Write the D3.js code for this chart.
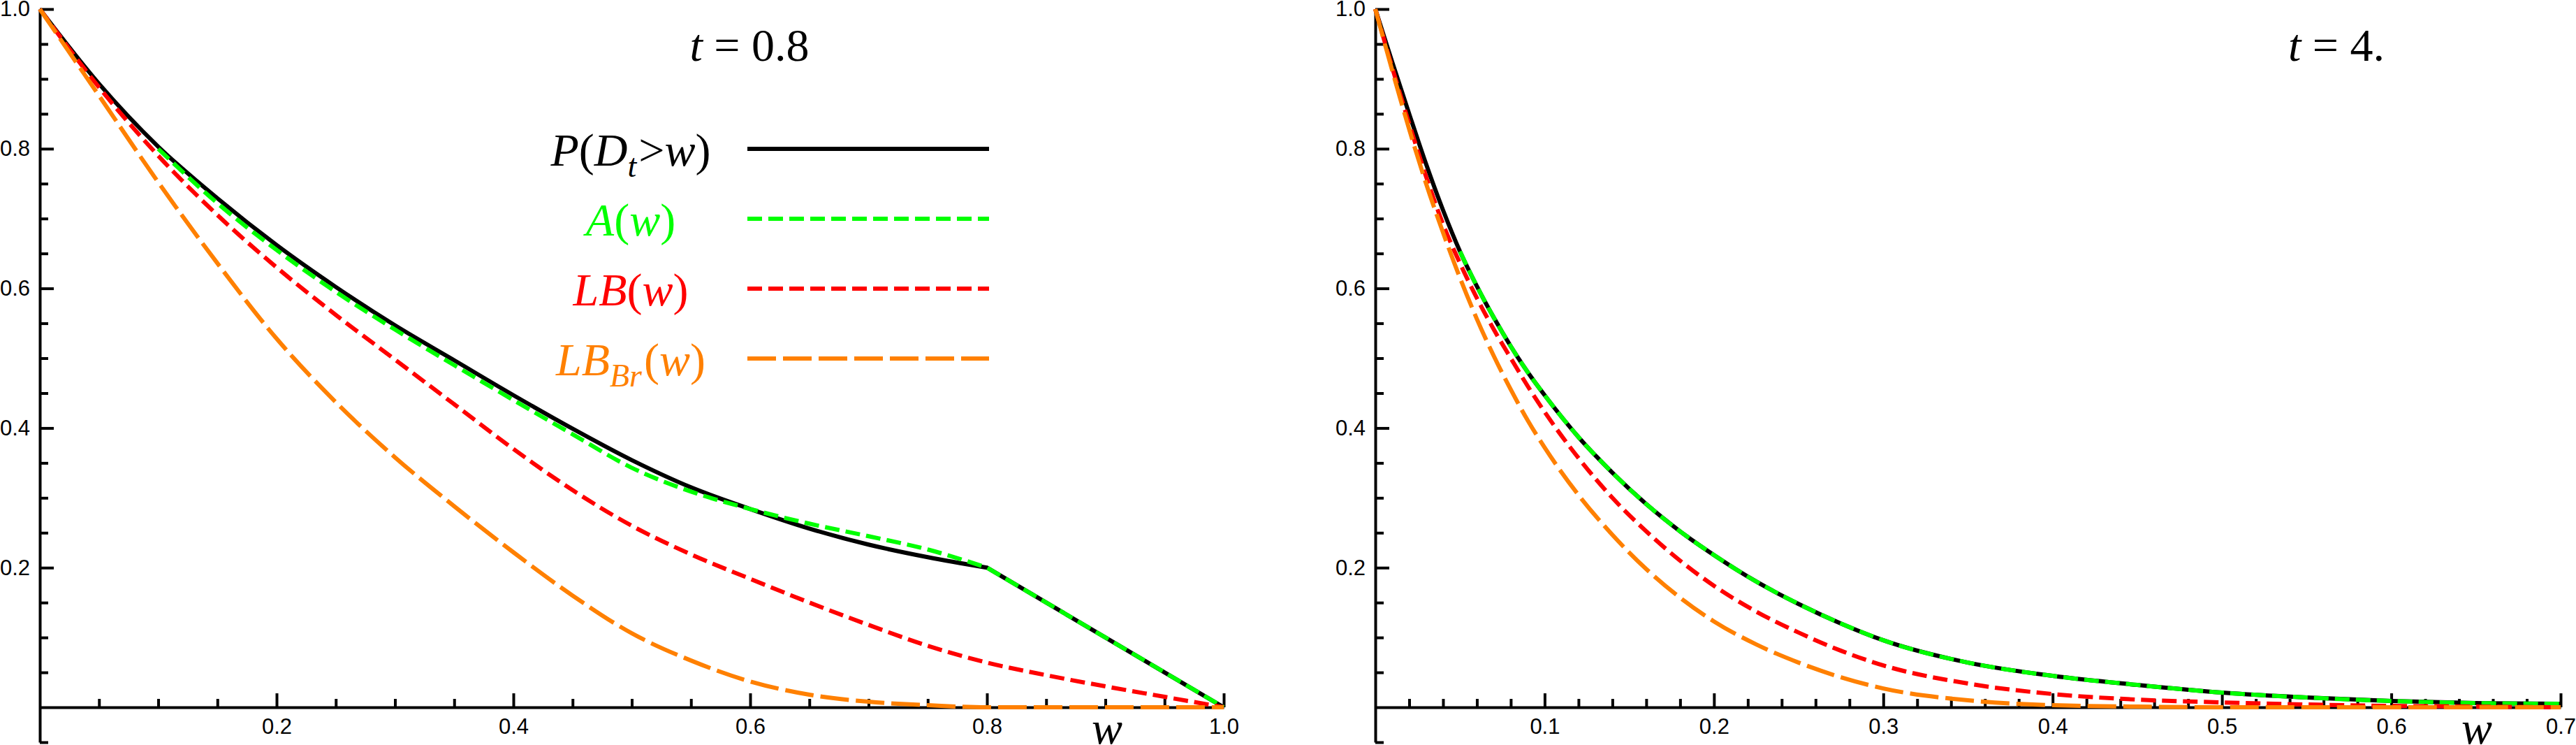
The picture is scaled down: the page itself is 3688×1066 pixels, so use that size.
<!DOCTYPE html>
<html>
<head>
<meta charset="utf-8">
<script src="https://d3js.org/d3.v7.min.js"></script>
<style>
body { margin: 0; background: #fff; }
svg { display: block; }
</style>
</head>
<body>
<div id="mainArea"></div>
<script>
// ---- data ----
// left panel, t = 0.8
var wLeft = [0, 0.05, 0.1, 0.15, 0.2, 0.25, 0.3, 0.35, 0.4, 0.45, 0.5, 0.55, 0.6, 0.65, 0.7, 0.75, 0.8, 0.85, 0.9, 0.95, 1.0];
var probLeft = [1.000, 0.893, 0.803, 0.729, 0.662, 0.602, 0.547, 0.497, 0.447, 0.399, 0.354, 0.315, 0.284, 0.256, 0.233, 0.215, 0.200, 0.150, 0.100, 0.050, 0.000];
var approxLeft = [null, null, 0.800, 0.722, 0.655, 0.595, 0.541, 0.490, 0.440, 0.391, 0.343, 0.309, 0.284, 0.263, 0.245, 0.226, 0.200, 0.150, 0.100, 0.050, 0.000];
var lbLeft = [1.000, 0.888, 0.790, 0.705, 0.630, 0.562, 0.498, 0.434, 0.370, 0.311, 0.260, 0.219, 0.184, 0.150, 0.118, 0.088, 0.064, 0.046, 0.030, 0.015, 0.000];
var lbBrLeft = [1.000, 0.876, 0.752, 0.636, 0.528, 0.437, 0.358, 0.288, 0.222, 0.160, 0.106, 0.067, 0.037, 0.018, 0.008, 0.003, 0.000, 0.000, 0.000, 0.000, 0.000];

// right panel, t = 4.
var wRight = [0, 0.01, 0.02, 0.03, 0.04, 0.05, 0.06, 0.07, 0.08, 0.09, 0.1, 0.12, 0.14, 0.16, 0.18, 0.2, 0.225, 0.25, 0.275, 0.3, 0.35, 0.4, 0.45, 0.5, 0.55, 0.6, 0.65, 0.7];
var probRight = [1.000, 0.924, 0.850, 0.778, 0.712, 0.653, 0.603, 0.558, 0.517, 0.480, 0.447, 0.387, 0.336, 0.291, 0.252, 0.218, 0.180, 0.148, 0.120, 0.096, 0.064, 0.045, 0.032, 0.021, 0.014, 0.009, 0.006, 0.005];
var approxRight = [null, null, null, null, null, 0.653, 0.603, 0.558, 0.517, 0.480, 0.447, 0.387, 0.336, 0.291, 0.252, 0.218, 0.180, 0.148, 0.120, 0.096, 0.064, 0.045, 0.032, 0.021, 0.014, 0.009, 0.006, 0.005];
var lbRight = [1.000, 0.916, 0.836, 0.760, 0.692, 0.636, 0.586, 0.541, 0.500, 0.460, 0.423, 0.357, 0.300, 0.252, 0.210, 0.174, 0.137, 0.107, 0.081, 0.060, 0.034, 0.019, 0.011, 0.007, 0.004, 0.002, 0.001, 0.000];
var lbBrRight = [1.000, 0.912, 0.828, 0.750, 0.680, 0.615, 0.556, 0.503, 0.455, 0.411, 0.372, 0.304, 0.247, 0.198, 0.157, 0.123, 0.090, 0.064, 0.043, 0.027, 0.010, 0.003, 0.001, 0.000, 0.000, 0.000, 0.000, 0.000];

// ticks
var xTicksLeft = [0.2, 0.4, 0.6, 0.8, 1.0];
var xTicksRight = [0.1, 0.2, 0.3, 0.4, 0.5, 0.6, 0.7];
var yTicks = [0.2, 0.4, 0.6, 0.8, 1.0];

var seriesColors = ["#000000", "#00ff00", "#ff0000", "#ff8000"];
var seriesDash = [null, "21,9", "21,9", "41,10"];

function mainInit() {
  var width = 3688, height = 1066;
  var vis = d3.select("#mainArea").append("svg")
    .attr("width", width)
    .attr("height", height);

  var yScale = d3.scaleLinear().domain([-0.05, 1]).range([1062, 13]);

  var panels = [
    { x: d3.scaleLinear().domain([0, 1]).range([57, 1752]),
      w: wLeft, series: [probLeft, approxLeft, lbLeft, lbBrLeft], kink: 0.8,
      xTicks: xTicksLeft, minorStep: 0.05, xMax: 1.0,
      title: "0.8", titleX: 1073, labelX: 1585 },
    { x: d3.scaleLinear().domain([0, 0.7]).range([1969, 3666]),
      w: wRight, series: [probRight, approxRight, lbRight, lbBrRight], kink: null,
      xTicks: xTicksRight, minorStep: 0.02, xMax: 0.7,
      title: "4.", titleX: 3345, labelX: 3546 }
  ];

  panels.forEach(function(p) {
    var g = vis.append("g");
    var x = p.x;

    // minor tick positions
    var xMinor = d3.range(1, Math.round(p.xMax / p.minorStep) + 1)
      .map(function(i) { return +(i * p.minorStep).toFixed(3); })
      .filter(function(v) { return p.xTicks.indexOf(v) < 0; });
    var yMinor = d3.range(-1, 20).map(function(i) { return +(i * 0.05).toFixed(3); })
      .filter(function(v) { return v !== 0 && yTicks.indexOf(v) < 0; });

    // x axis
    var xa = g.append("g").attr("transform", "translate(0," + yScale(0) + ")")
      .call(d3.axisBottom(x).tickValues(p.xTicks).tickSize(-20).tickSizeOuter(0)
        .tickPadding(16).tickFormat(d3.format(".1f")));
    var xm = g.append("g").attr("transform", "translate(0," + yScale(0) + ")")
      .call(d3.axisBottom(x).tickValues(xMinor).tickSize(-12).tickSizeOuter(0).tickFormat(""));
    xm.select(".domain").remove();

    // y axis
    var ya = g.append("g").attr("transform", "translate(" + x(0) + ",0)")
      .call(d3.axisLeft(yScale).tickValues(yTicks).tickSize(-20).tickSizeOuter(0)
        .tickPadding(14).tickFormat(d3.format(".1f")));
    var ym = g.append("g").attr("transform", "translate(" + x(0) + ",0)")
      .call(d3.axisLeft(yScale).tickValues(yMinor).tickSize(-12).tickSizeOuter(0).tickFormat(""));
    ym.select(".domain").remove();

    [xa, xm, ya, ym].forEach(function(a) {
      a.attr("font-family", "'Liberation Sans', Arial, sans-serif").attr("font-size", 31);
      a.selectAll(".domain").attr("stroke", "#000").attr("stroke-width", 4);
      a.selectAll(".tick line").attr("stroke", "#000").attr("stroke-width", 4);
      a.selectAll(".tick text").attr("fill", "#000");
    });

    // curves
    var smooth = d3.line()
      .x(function(d) { return x(d[0]); })
      .y(function(d) { return yScale(d[1]); })
      .curve(d3.curveMonotoneX);
    var straight = d3.line()
      .x(function(d) { return x(d[0]); })
      .y(function(d) { return yScale(d[1]); });

    p.series.forEach(function(vals, si) {
      var pts = p.w.map(function(w, i) { return [w, vals[i]]; })
        .filter(function(d) { return d[1] != null; });
      var dStr;
      if (p.kink != null && si < 2) {
        // smooth part up to the kink, straight part after it
        var a = pts.filter(function(d) { return d[0] <= p.kink; });
        var b = pts.filter(function(d) { return d[0] >= p.kink; });
        dStr = smooth(a) + straight(b).replace(/^M/, "L");
      } else {
        dStr = smooth(pts);
      }
      g.append("path")
        .attr("d", dStr)
        .attr("fill", "none")
        .attr("stroke", seriesColors[si])
        .attr("stroke-width", 6)
        .attr("stroke-dasharray", seriesDash[si]);
    });

    // title
    var t = g.append("text")
      .attr("x", p.titleX).attr("y", 87)
      .attr("text-anchor", "middle")
      .attr("font-family", "'Liberation Serif', 'Times New Roman', serif")
      .attr("font-size", 66);
    t.append("tspan").attr("font-style", "italic").text("t");
    t.append("tspan").text(" = " + p.title);

    // axis label
    g.append("text")
      .attr("x", p.labelX).attr("y", 1064)
      .attr("text-anchor", "middle")
      .attr("font-family", "'Liberation Serif', 'Times New Roman', serif")
      .attr("font-style", "italic")
      .attr("font-size", 66)
      .text("w");
  });

  // legend (left panel)
  var legendParts = [
    [["P", "i"], ["(", "n"], ["D", "i"], ["t", "s"], [">", "n"], ["w", "i"], [")", "n"]],
    [["A", "i"], ["(", "n"], ["w", "i"], [")", "n"]],
    [["LB", "i"], ["(", "n"], ["w", "i"], [")", "n"]],
    [["LB", "i"], ["Br", "s"], ["(", "n"], ["w", "i"], [")", "n"]]
  ];
  var lg = vis.append("g");
  legendParts.forEach(function(parts, i) {
    var yy = 213 + i * 100;
    lg.append("line")
      .attr("x1", 1070).attr("x2", 1416)
      .attr("y1", yy).attr("y2", yy)
      .attr("stroke", seriesColors[i])
      .attr("stroke-width", 6)
      .attr("stroke-dasharray", seriesDash[i]);
    var txt = lg.append("text")
      .attr("x", 903).attr("y", yy + 24)
      .attr("text-anchor", "middle")
      .attr("font-family", "'Liberation Serif', 'Times New Roman', serif")
      .attr("font-size", 66)
      .attr("fill", seriesColors[i]);
    var prevSub = false;
    parts.forEach(function(pt) {
      var ts = txt.append("tspan").text(pt[0]);
      if (pt[1] !== "n") ts.attr("font-style", "italic");
      if (pt[1] === "s") {
        ts.attr("font-size", 46).attr("dy", 16);
        prevSub = true;
      } else if (prevSub) {
        ts.attr("dy", -16).attr("dx", 3);
        prevSub = false;
      }
    });
  });
}

window.onload = mainInit;
</script>
</body>
</html>
